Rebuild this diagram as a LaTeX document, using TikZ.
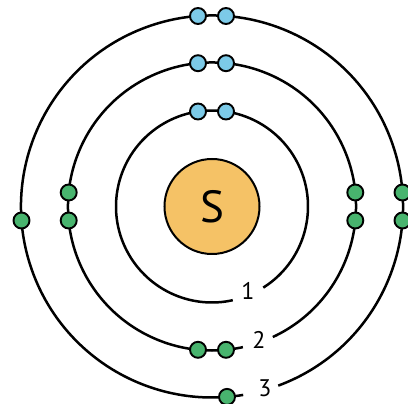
\documentclass[tikz,border=0pt]{standalone}
\usepackage{fontspec}
\setmainfont{PT Sans}
\usetikzlibrary{calc}
\definecolor{nucfill}{RGB}{245,194,102}
\definecolor{eblue}{RGB}{124,202,232}
\definecolor{egreen}{RGB}{72,180,110}
\tikzset{
  shell/.style={line width=2.5pt, black},
  electron/.style={circle, draw=black, line width=1.9pt, inner sep=0pt, minimum size=16pt},
  eb/.style={electron, fill=eblue},
  eg/.style={electron, fill=egreen},
  shelllabel/.style={inner sep=0pt, font=\fontsize{24}{24}\selectfont}
}
\begin{document}
\begin{tikzpicture}[x=1pt,y=1pt]
\useasboundingbox (0,0) rectangle (408,404);
\coordinate (c) at (212,197.5);
% shells
\draw[shell] ($(c)+(-57.7:96)$) arc[start angle=-57.7, end angle=282.5, radius=96];
\draw[shell] ($(c)+(-65:144)$) arc[start angle=-65, end angle=282.4, radius=144];
\draw[shell] ($(c)+(-69.7:191)$) arc[start angle=-69.7, end angle=279.4, radius=191];
% nucleus
\node[circle, draw=black, line width=2pt, fill=nucfill, minimum size=95pt, inner sep=0pt,
      font=\fontsize{45}{45}\selectfont] (nuc) at (c) {S};
% shell 1 electrons
\node[eb] (a1) at ($(c)+(-14,95)$) {};
\node[eb] (a2) at ($(c)+(14,95)$) {};
% shell 2 electrons
\node[eb] (b1) at ($(c)+(-14,143.3)$) {};
\node[eb] (b2) at ($(c)+(14,143.3)$) {};
\node[eg] (b3) at ($(c)+(-143.3,14)$) {};
\node[eg] (b4) at ($(c)+(-143.3,-14)$) {};
\node[eg] (b5) at ($(c)+(143.3,14)$) {};
\node[eg] (b6) at ($(c)+(143.3,-14)$) {};
\node[eg] (b7) at ($(c)+(-14,-143.3)$) {};
\node[eg] (b8) at ($(c)+(14,-143.3)$) {};
% shell 3 electrons
\node[eb] (d1) at ($(c)+(-14,190.5)$) {};
\node[eb] (d2) at ($(c)+(14,190.5)$) {};
\node[eg] (d3) at ($(c)+(-190.5,-14)$) {};
\node[eg] (d4) at ($(c)+(190.5,14)$) {};
\node[eg] (d5) at ($(c)+(190.5,-14)$) {};
\node[eg] (d6) at ($(c)+(15,-190.4)$) {};
% labels
\node[shelllabel] (l1) at ($(c)+(36,-84)$) {1};
\node[shelllabel] (l2) at ($(c)+(47,-133)$) {2};
\node[shelllabel] (l3) at ($(c)+(53,-182)$) {3};
\end{tikzpicture}
\end{document}
